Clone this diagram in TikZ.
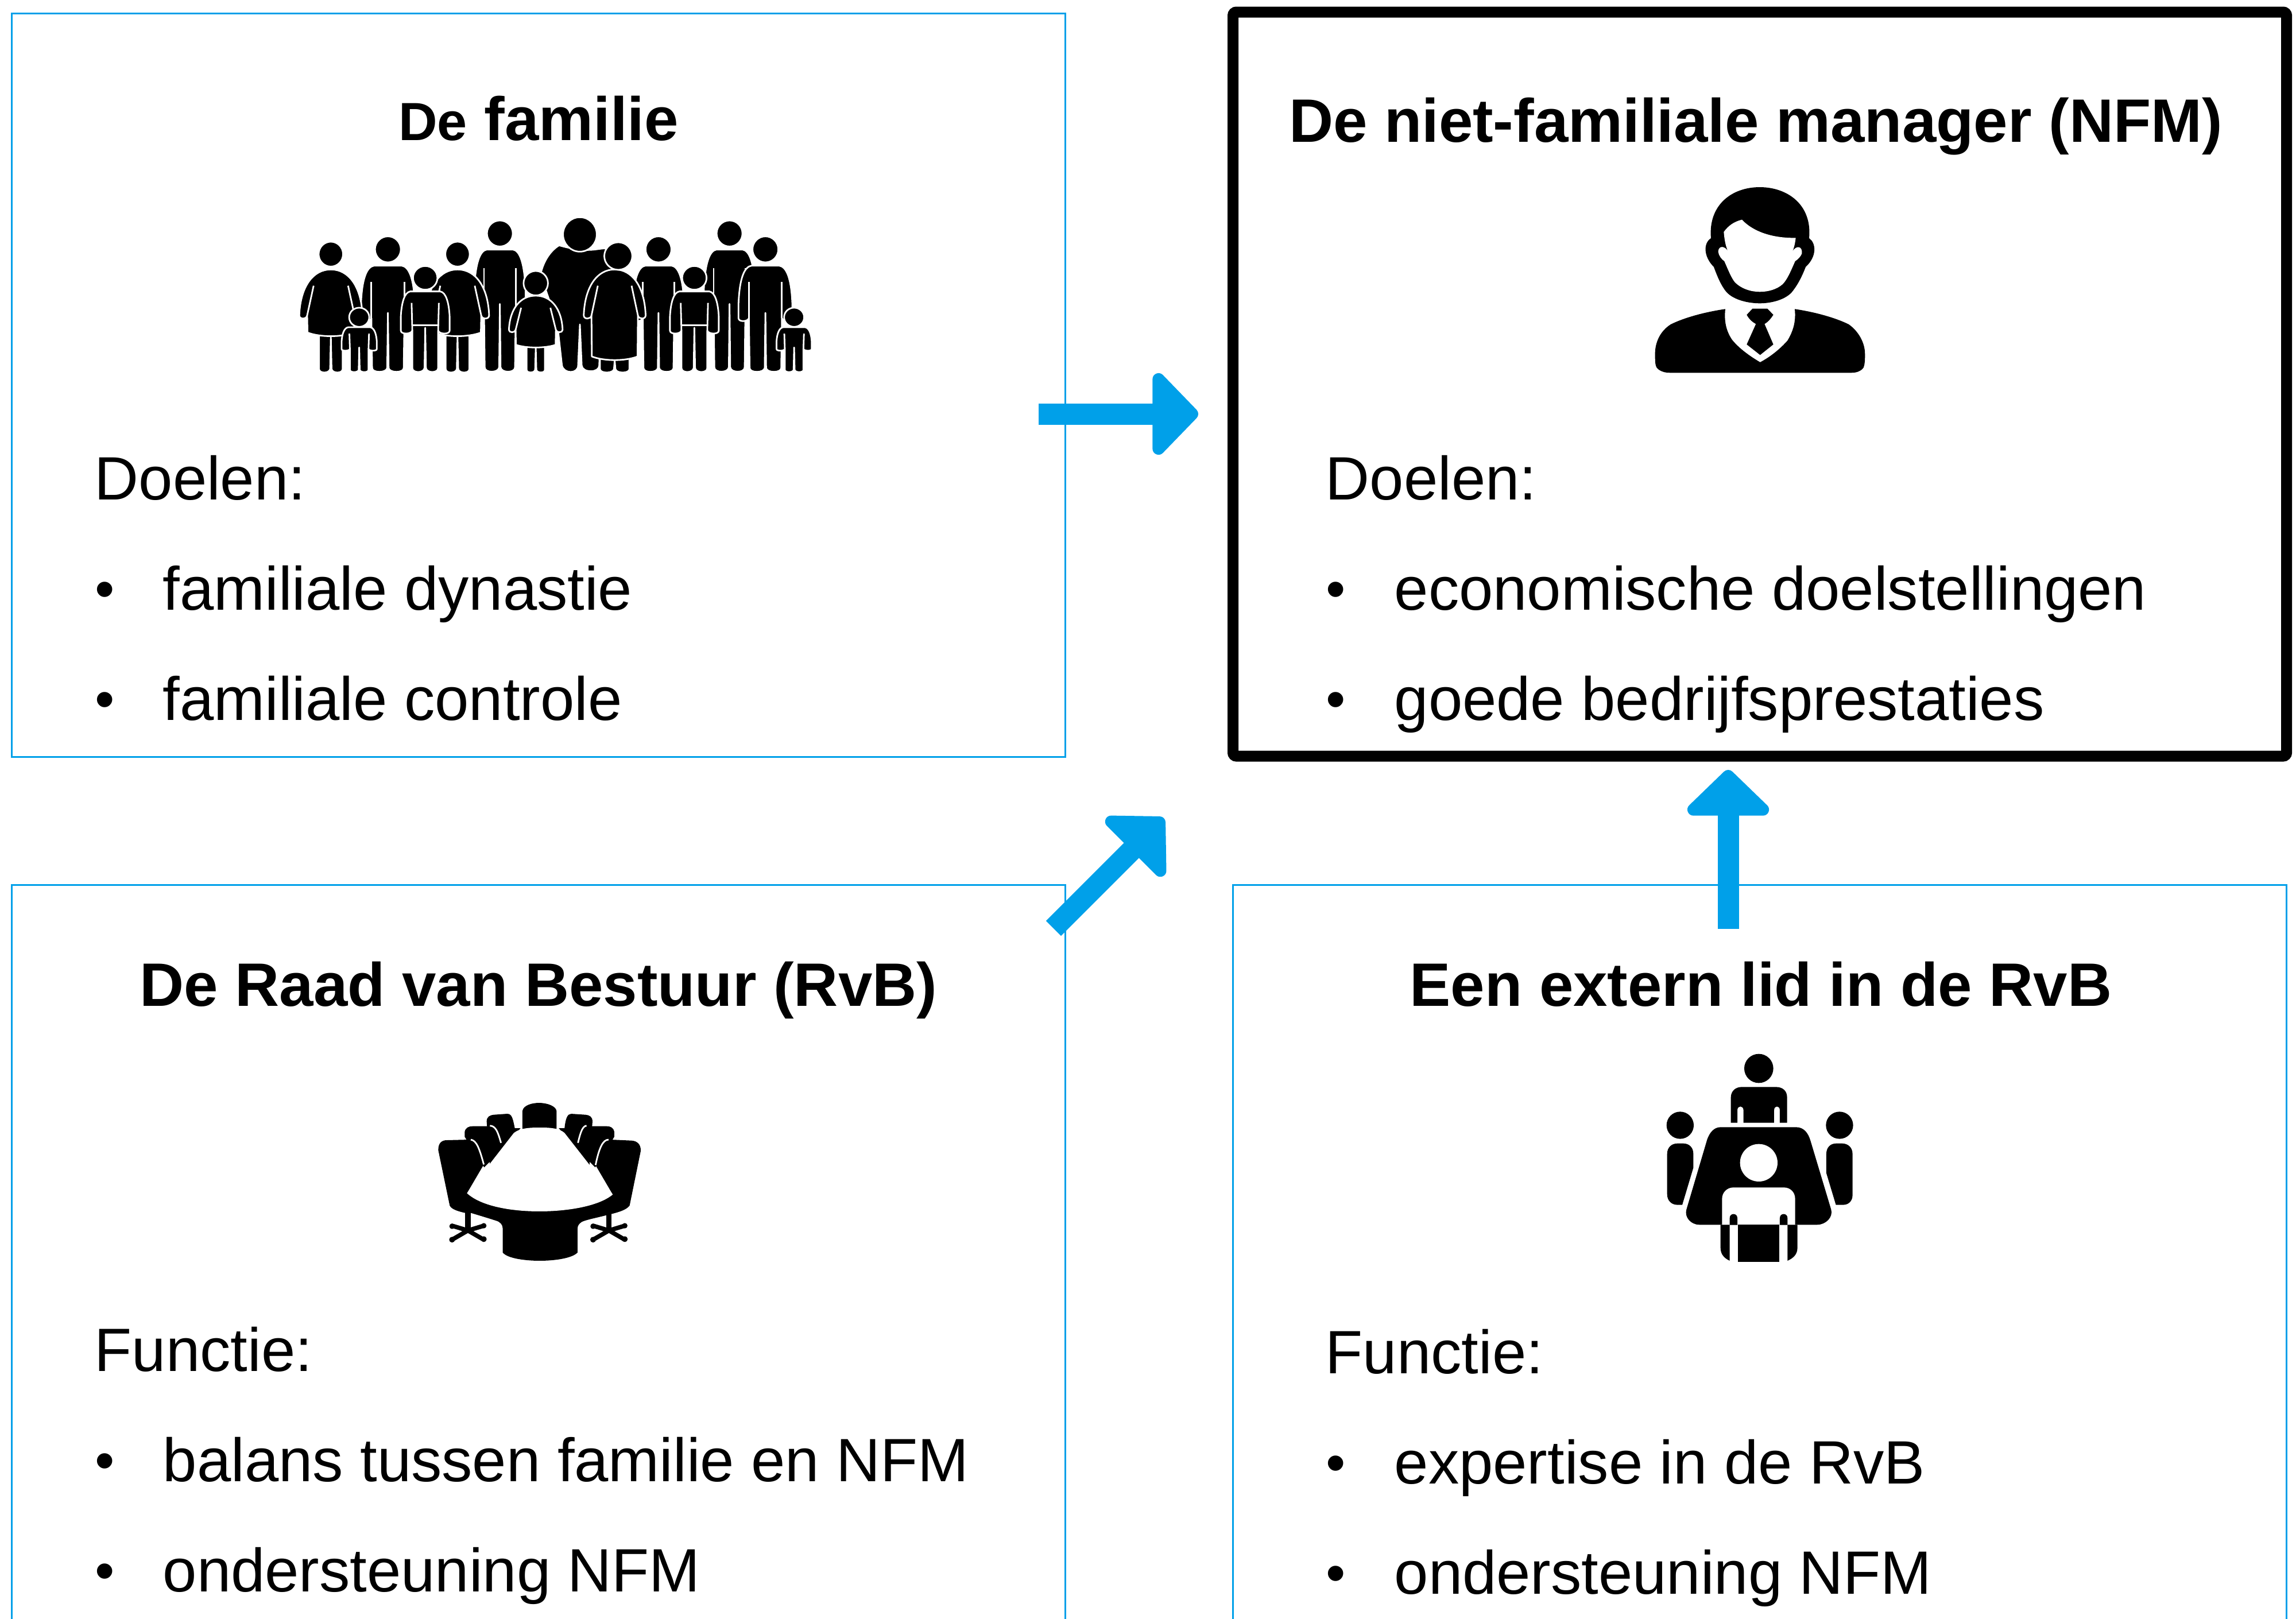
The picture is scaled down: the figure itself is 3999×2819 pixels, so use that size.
\documentclass[tikz,border=0pt]{standalone}
\usepackage{fontspec}
\setmainfont{Liberation Sans}
\usetikzlibrary{arrows.meta}
\definecolor{nblue}{HTML}{00A0E9}
\tikzset{
  x=0.25pt,y=-0.25pt,
  thinbox/.style={draw=nblue,line width=0.75pt,inner sep=0pt,minimum width=#1,fill=white},
  mainbox/.style={draw=black,line width=4.75pt,rounded corners=1.5pt,inner sep=0pt,fill=white},
  body/.style={font=\fontsize{26.65pt}{30pt}\selectfont,anchor=base west,inner sep=0pt},
  dot/.style={font=\fontsize{24.5pt}{30pt}\selectfont,anchor=base west,inner sep=0pt},
  ttl/.style={font=\fontsize{26.7pt}{30pt}\selectfont\bfseries,anchor=base,inner sep=0pt},
  fatarrow/.style={draw=nblue,line width=9.25pt,-{Triangle[length=21pt,width=42pt,round]}},
  ink/.style={fill=black,draw=none},
  paper/.style={fill=white,draw=none},
  fig/.style={fill=black,draw=white,line width=0.7pt,line join=round},
  gap/.style={draw=white,line width=0.7pt},
  zoomview/.style n args={4}{shift={(#1,#2)},x=#3*0.25pt,y=-#4*0.25pt},
}
% figures for the family icon: local origin at the top of the body
\newcommand\famman[4]{\begin{scope}[shift={(#1,#2)},xscale=#3,yscale=#4]
 \path[fig] (-38,0) -- (38,0) .. controls (58,5) and (72,60) .. (75,200) -- (75,275)
   .. controls (75,295) and (50,295) .. (46,275) -- (44,535) .. controls (44,562) and (4,562) .. (2,535) -- (0,247)
   -- (-2,535) .. controls (-4,562) and (-44,562) .. (-44,535) -- (-46,275)
   .. controls (-50,295) and (-75,295) .. (-75,275) -- (-75,200) .. controls (-72,60) and (-58,5) .. (-38,0) -- cycle;
 \draw[gap] (46,275) -- (46,85) (-46,275) -- (-46,85);
\end{scope}}
\newcommand\famboy[4]{\begin{scope}[shift={(#1,#2)},xscale=#3,yscale=#4]
 \path[fig] (-42,0) -- (42,0) .. controls (58,5) and (66,60) .. (68,130) -- (68,205)
   .. controls (68,225) and (40,225) .. (36,205) -- (36,400) .. controls (36,428) and (4,428) .. (2,400) -- (0,190)
   -- (-2,400) .. controls (-4,428) and (-36,428) .. (-36,400) -- (-36,205)
   .. controls (-40,225) and (-68,225) .. (-68,205) -- (-68,130) .. controls (-66,60) and (-58,5) .. (-42,0) -- cycle;
 \draw[gap] (36,205) -- (38,60) (-36,205) -- (-38,60);
\end{scope}}
\newcommand\famwoman[6]{\begin{scope}[shift={(#1,#2)},xscale=#3,yscale=#4]
 \path[fig] (-#6,#5-10) -- (#6,#5-10) -- (#6,520) .. controls (#6,545) and (4,545) .. (2,520) -- (0,#5)
   -- (-2,520) .. controls (-4,545) and (-#6,545) .. (-#6,520) -- cycle;
 \path[fig] (0,0) .. controls (50,0) and (85,90) .. (88,240) .. controls (88,262) and (68,262) .. (66,240) -- (66,240)
   -- (65,#5-20) .. controls (30,#5+5) and (-30,#5+5) .. (-65,#5-20) -- (-66,240)
   .. controls (-68,262) and (-88,262) .. (-88,240) .. controls (-85,90) and (-50,0) .. (0,0) -- cycle;
 \draw[gap] (66,240) -- (48,85) (-66,240) -- (-48,85);
\end{scope}}
\newcommand\famhead[4]{\path[fig] (#1,#2) circle [x radius=#3,y radius=#4];}
\begin{document}
\begin{tikzpicture}
\clip (0,0) rectangle (3999,2819);
\fill[white] (0,0) rectangle (3999,2819);

% boxes
\node[thinbox=1835*0.25pt,minimum height=1295*0.25pt] (fam) at (937.5,670.5) {};
\node[thinbox=1835*0.25pt,minimum height=1700*0.25pt] (rvb) at (937.5,2391) {};
\node[thinbox=1835*0.25pt,minimum height=1700*0.25pt] (ext) at (3065,2391) {};
\node[mainbox,minimum width=1835*0.25pt,minimum height=1296*0.25pt] (nfm) at (3065,669) {};

% arrows
\coordinate (famout) at (1809,721);
\coordinate (nfmleft) at (2087,721);
\coordinate (rvbout) at (1835,1617);
\coordinate (nfmdiag) at (2027,1425);
\coordinate (extout) at (3010,1618);
\coordinate (nfmlow) at (3010,1341);
\draw[fatarrow] (famout) -- (nfmleft);
\draw[fatarrow] (extout) -- (nfmlow);
\draw[fatarrow] (rvbout) -- (nfmdiag);

% titles
\node[ttl] (t1) at (938,244) {{\fontsize{23.4pt}{30pt}\selectfont De} familie};
\node[ttl] (t2) at (3058,247) {De niet-familiale manager (NFM)};
\node[ttl] (t3) at (938,1752) {De Raad van Bestuur (RvB)};
\node[ttl] (t4) at (3067,1752) {Een extern lid in de RvB};

% body text
\node[body] (a0) at (164,870) {Doelen:};
\node[dot] (a1) at (165,1059) {•};
\node[body] (a2) at (283,1062) {familiale dynastie};
\node[dot] (a3) at (165,1251) {•};
\node[body] (a4) at (283,1254) {familiale controle};
\node[body] (b0) at (2308,870) {Doelen:};
\node[dot] (b1) at (2309,1059) {•};
\node[body] (b2) at (2428,1062) {economische doelstellingen};
\node[dot] (b3) at (2309,1251) {•};
\node[body] (b4) at (2428,1254) {goede bedrijfsprestaties};
\node[body] (c0) at (164,2388) {Functie:};
\node[dot] (c1) at (165,2577) {•};
\node[body] (c2) at (283,2580) {balans tussen familie en NFM};
\node[dot] (c3) at (165,2769) {•};
\node[body] (c4) at (283,2772) {ondersteuning NFM};
\node[body] (d0) at (2308,2392) {Functie:};
\node[dot] (d1) at (2309,2581) {•};
\node[body] (d2) at (2428,2584) {expertise in de RvB};
\node[dot] (d3) at (2309,2773) {•};
\node[body] (d4) at (2428,2776) {ondersteuning NFM};

% family icon
\begin{scope}[zoomview={480}{340}{0.625}{0.3333}]
 \famhead{625}{200}{36}{68}\famman{625}{284}{0.96}{1.15}
 \famhead{1265}{200}{36}{68}\famman{1265}{284}{0.96}{1.15}
 % large man
 \path[fig] (790,262) .. controls (880,310) and (900,270) .. (925,280) -- (960,500) -- (905,670) -- (902,890)
   .. controls (902,930) and (855,930) .. (853,890) -- (848,675) -- (843,890) .. controls (843,935) and (803,935) .. (798,890)
   -- (785,670) -- (750,480) -- (740,400) .. controls (750,330) and (770,285) .. (790,262) -- cycle;
 \famhead{848}{205}{47}{90}
 \famman{313}{368}{1}{1}\famhead{313}{283}{36}{68}
 \famwoman{507}{388}{1}{1}{350}{33}\famhead{507}{308}{34}{65}
 \famwoman{154}{388}{1}{1}{350}{33}\famhead{154}{308}{34}{65}
 \famman{1067}{368}{0.95}{1}\famhead{1067}{283}{36}{68}
 \famwoman{945}{388}{0.98}{1}{475}{42}\famhead{955}{318}{39}{72}
 \famman{1365}{368}{1}{1}\famhead{1365}{283}{36}{68}
 \famboy{417}{503}{1}{1}\famhead{417}{432}{34}{62}\draw[gap] (382,680) -- (452,680);
 \famboy{1167}{503}{1}{1}\famhead{1167}{432}{34}{62}\draw[gap] (1132,680) -- (1202,680);
 \famwoman{725}{525}{0.85}{0.745}{365}{30}\famhead{725}{460}{34}{64}
 \famboy{233}{690}{0.72}{0.557}\famhead{233}{638}{28}{50}
 \famboy{1445}{690}{0.72}{0.557}\famhead{1445}{638}{28}{50}
\end{scope}

% manager icon
\begin{scope}[zoomview={2820}{300}{0.3333}{0.3333}]
 \fill[ink] (480,345) .. controls (465,170) and (590,78) .. (735,78) .. controls (880,78) and (1010,170) .. (993,345)
   .. controls (1030,370) and (1035,440) .. (975,495) .. controls (950,560) and (925,600) .. (900,630)
   .. controls (860,670) and (790,685) .. (735,685) .. controls (680,685) and (600,670) .. (560,625)
   .. controls (535,595) and (515,550) .. (495,495) .. controls (440,440) and (440,370) .. (480,345) -- cycle;
 \fill[paper] (547,312) .. controls (570,280) and (600,258) .. (642,248) .. controls (700,310) and (800,345) .. (923,343)
   .. controls (920,370) and (915,395) .. (905,415) .. controls (925,380) and (960,385) .. (955,425)
   .. controls (950,440) and (935,455) .. (920,465) .. controls (900,510) and (880,560) .. (855,585)
   .. controls (825,612) and (780,625) .. (735,625) .. controls (690,625) and (640,610) .. (605,575)
   .. controls (585,550) and (570,510) .. (550,465) .. controls (535,455) and (520,435) .. (518,415)
   .. controls (520,380) and (555,385) .. (570,415) .. controls (555,385) and (550,345) .. (547,312) -- cycle;
 \fill[ink] (555,715) .. controls (450,730) and (340,760) .. (270,795) .. controls (215,830) and (185,890) .. (188,960)
   .. controls (188,1000) and (190,1020) .. (205,1030) .. controls (225,1045) and (245,1048) .. (265,1048)
   -- (1215,1048) .. controls (1240,1048) and (1265,1040) .. (1278,1020) .. controls (1285,1000) and (1285,980) .. (1285,950)
   .. controls (1285,890) and (1250,830) .. (1200,795) .. controls (1130,760) and (1020,730) .. (918,715)
   .. controls (925,780) and (910,830) .. (880,880) .. controls (840,925) and (790,965) .. (737,993)
   .. controls (690,965) and (630,925) .. (590,875) .. controls (560,830) and (548,780) .. (555,715) -- cycle;
 \fill[ink] (697,713) -- (775,713) -- (806,745) .. controls (790,770) and (775,785) .. (760,793) -- (806,900)
   -- (737,955) -- (667,900) -- (715,793) .. controls (700,785) and (680,770) .. (667,745) -- cycle;
\end{scope}

% boardroom icon
\begin{scope}[zoomview={720}{1890}{0.3333}{0.3333}]
 \fill[ink] (570,230) -- (570,135) .. controls (575,105) and (620,93) .. (657,93) .. controls (700,93) and (745,110) .. (748,135) -- (748,230) -- cycle;
 \fill[ink] (383,190) .. controls (383,165) and (400,157) .. (420,155) -- (490,150) .. controls (515,150) and (520,175) .. (530,225) -- (560,225) -- (400,420) -- cycle;
 \fill[ink] (936,190) .. controls (936,165) and (920,157) .. (900,155) -- (825,150) .. controls (805,150) and (795,175) .. (790,225) -- (760,225) -- (920,420) -- cycle;
 \fill[ink] (268,270) -- (268,245) .. controls (272,222) and (290,215) .. (310,215) -- (400,215) .. controls (430,215) and (440,235) .. (458,300) -- (500,300) -- (370,430) -- cycle;
 \fill[ink] (1050,270) -- (1050,245) .. controls (1046,222) and (1030,215) .. (1010,215) -- (900,215) .. controls (880,215) and (870,235) .. (860,300) -- (820,300) -- (950,430) -- cycle;
 % chairs, rim and base
 \fill[ink] (130,340) .. controls (130,300) and (150,288) .. (175,288) -- (290,285) .. controls (325,285) and (340,320) .. (368,415) -- (280,565)
   -- (660,640) -- (1042,572) -- (950,415) .. controls (975,320) and (990,285) .. (1030,285) -- (1140,290) .. controls (1170,292) and (1190,310) .. (1188,345)
   -- (1130,630) .. controls (1110,655) and (1070,665) .. (1010,680) .. controls (950,695) and (900,705) .. (880,715) .. controls (865,725) and (858,735) .. (858,750)
   -- (858,875) .. controls (830,905) and (740,918) .. (660,918) .. controls (580,918) and (490,905) .. (467,875)
   -- (467,750) .. controls (467,730) and (455,715) .. (430,708) .. controls (390,695) and (340,680) .. (300,668) -- (270,668)
   .. controls (235,660) and (200,650) .. (190,630) -- cycle;
 \draw[gap] (300,285) .. controls (330,290) and (345,330) .. (368,415);
 \draw[gap] (400,212) .. controls (430,215) and (440,240) .. (458,302);
 \draw[gap] (1020,285) .. controls (990,285) and (970,330) .. (952,418);
 \draw[gap] (905,212) .. controls (885,215) and (875,240) .. (860,302);
 \fill[paper] (525,250) .. controls (560,222) and (620,222) .. (660,222) .. controls (700,222) and (760,222) .. (790,250) -- (1042,572)
   .. controls (960,640) and (780,660) .. (660,660) .. controls (500,660) and (350,630) .. (280,565) -- cycle;
 % swivel feet
 \foreach \sx/\ex in {285/0,1022/1}{
  \begin{scope}[shift={(\sx,0)}]
   \draw[line width=2.4pt] (0,665) -- (0,750);
   \draw[line width=1.9pt,line cap=round] (-83,735) -- (0,760) -- (83,735) (-83,808) -- (0,760) -- (83,808);
   \fill (-83,738) circle [radius=14] (83,735) circle [radius=14] (-83,808) circle [radius=15] (83,805) circle [radius=15];
  \end{scope}}
\end{scope}

% meeting icon
\begin{scope}[zoomview={2860}{1810}{0.3333}{0.3333}]
 \fill[ink] (610,153) circle [radius=76];
 \fill[ink] (464,437) -- (464,305) .. controls (464,270) and (490,250) .. (520,250) -- (700,250) .. controls (735,250) and (758,270) .. (758,305) -- (758,437)
   -- (720,437) -- (720,372) .. controls (720,345) and (690,345) .. (690,372) -- (690,437) -- (530,437) -- (530,372)
   .. controls (530,345) and (498,345) .. (498,372) -- (498,437) -- cycle;
 \fill[ink] (199,450) circle [radius=71];
 \fill[ink] (131,600) .. controls (131,565) and (155,545) .. (185,545) -- (215,545) .. controls (245,545) and (268,565) .. (268,600)
   -- (268,672) -- (210,866) -- (185,866) .. controls (155,866) and (131,845) .. (131,810) -- cycle;
 \fill[ink] (1032,450) circle [radius=71];
 \fill[ink] (963,600) .. controls (963,565) and (985,545) .. (1015,545) -- (1045,545) .. controls (1075,545) and (1100,565) .. (1100,600)
   -- (1100,815) .. controls (1100,845) and (1080,866) .. (1050,866) -- (1013,866) -- (963,700) -- cycle;
 \fill[ink] (410,460) -- (805,460) .. controls (845,460) and (868,490) .. (880,530) -- (988,890)
   .. controls (1000,930) and (960,970) .. (915,970) -- (300,970) .. controls (255,970) and (220,930) .. (232,890)
   -- (340,525) .. controls (352,490) and (375,460) .. (410,460) -- cycle;
 \fill[paper] (610,646) circle [radius=98];
 \fill[paper] (418,971) -- (418,835) .. controls (418,800) and (445,775) .. (478,775) -- (740,775) .. controls (775,775) and (800,800) .. (800,835) -- (800,971) -- cycle;
 \fill[ink] (458,971) -- (458,935) .. controls (458,907) and (498,907) .. (498,935) -- (498,971) -- cycle;
 \fill[ink] (720,971) -- (720,935) .. controls (720,907) and (760,907) .. (760,935) -- (760,971) -- cycle;
 \fill[ink] (410,970) -- (458,970) -- (458,1158) .. controls (430,1145) and (410,1125) .. (410,1090) -- cycle;
 \fill[ink] (500,970) -- (718,970) -- (718,1165) -- (500,1165) -- cycle;
 \fill[ink] (760,970) -- (812,970) -- (812,1090) .. controls (812,1125) and (790,1145) .. (760,1158) -- cycle;
\end{scope}
\end{tikzpicture}
\end{document}
